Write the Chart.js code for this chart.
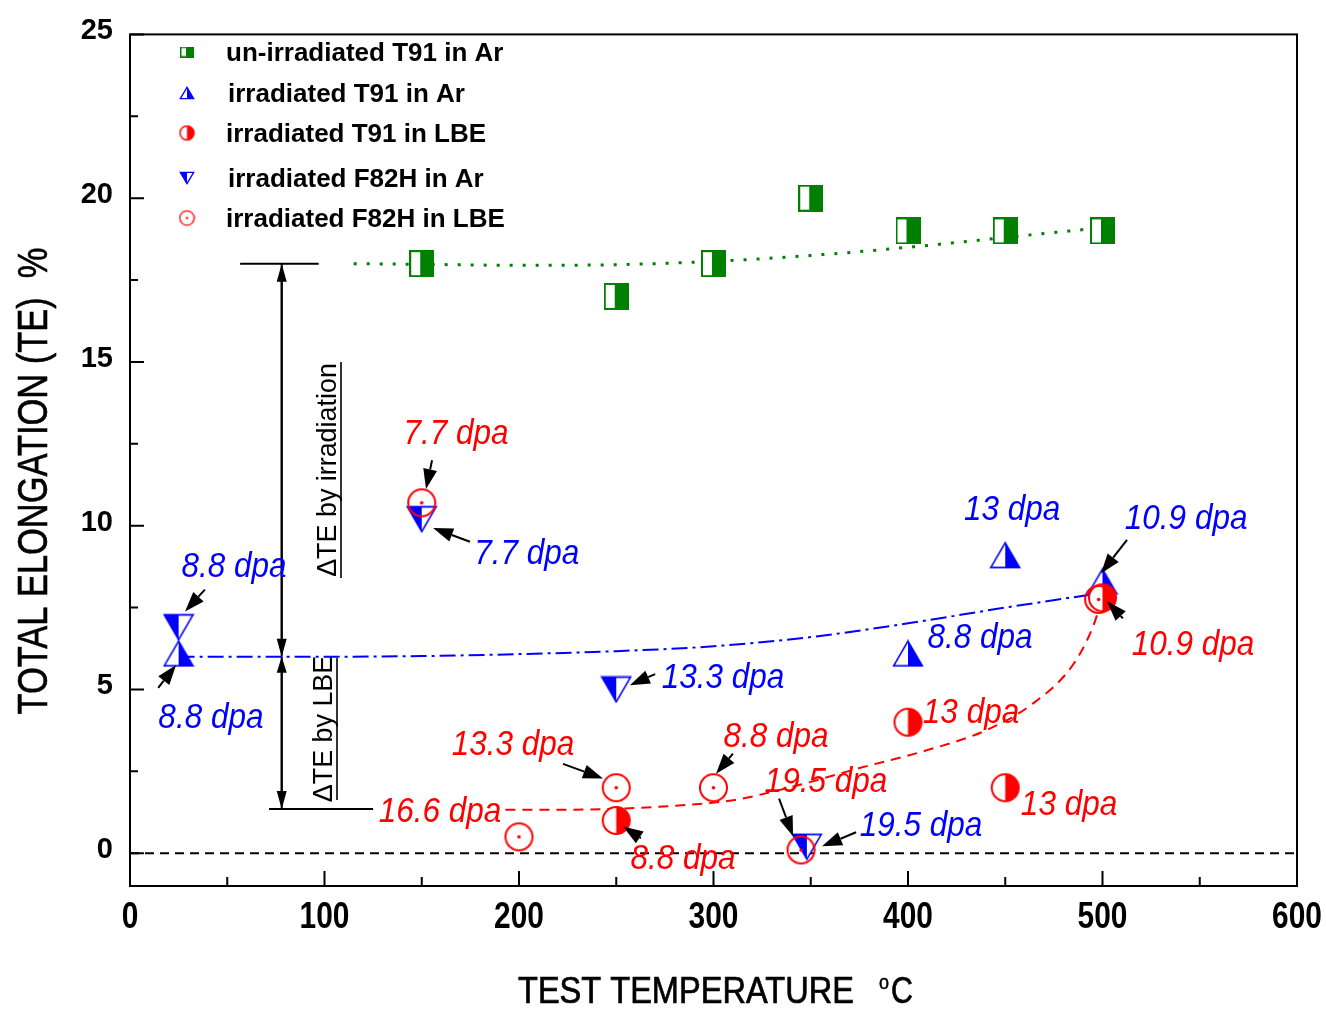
<!DOCTYPE html>
<html><head><meta charset="utf-8">
<script src="https://cdn.jsdelivr.net/npm/chart.js@4.4.1/dist/chart.umd.min.js"></script>
<style>html,body{margin:0;padding:0;background:#fff;}canvas{display:block;}</style>
</head><body>
<canvas id="c" width="1326" height="1010"></canvas>
<script>
// ---------- data ----------
const xTicks = [0, 100, 200, 300, 400, 500, 600];
const yTicks = [0, 5, 10, 15, 20, 25];

const seriesNames = ['un-irradiated T91 in Ar', 'irradiated T91 in Ar', 'irradiated T91 in LBE', 'irradiated F82H in Ar', 'irradiated F82H in LBE'];

const unirrT91ArX = [150, 250, 300, 350, 400, 450, 500];
const unirrT91ArY = [18, 17, 18, 20, 19, 19, 19];
const irrT91ArX = [25, 400, 450, 500];
const irrT91ArY = [6.1, 6.1, 9.1, 8.3];
const irrT91LbeX = [250, 400, 450, 500];
const irrT91LbeY = [1.0, 4.0, 2.0, 7.8];
const irrF82ArX = [25, 150, 250, 348];
const irrF82ArY = [6.9, 10.2, 5.0, 0.2];
const irrF82LbeX = [150, 200, 250, 300, 345, 498];
const irrF82LbeY = [10.7, 0.5, 2.0, 2.0, 0.1, 7.75];

const fitGreenX = [115, 150, 200, 250, 300, 350, 400, 450, 500];
const fitGreenY = [18.0, 17.98, 17.95, 17.97, 18.07, 18.25, 18.5, 18.8, 19.1];
const fitBlueX = [25, 100, 150, 200, 250, 300, 350, 400, 450, 500];
const fitBlueY = [6.0, 6.0, 6.02, 6.08, 6.17, 6.32, 6.6, 7.02, 7.5, 7.95];
const fitRedX = [193, 225, 250, 280, 310, 345, 375, 410, 440, 464, 485, 495, 500];
const fitRedY = [1.33, 1.33, 1.36, 1.45, 1.62, 2.1, 2.6, 3.15, 3.75, 4.56, 5.77, 6.9, 7.8];
const zeroX = [0, 600];
const zeroY = [0, 0];

// dpa annotations: text, colour, label centre (data units), optional arrow tail/head (data units)
const dpaLabels = [
  ['8.8 dpa', 'blue', 53.5, 8.81, [38.5, 8.05, 28.3, 7.38]],
  ['8.8 dpa', 'blue', 41.6, 4.19, [14.5, 5.05, 23.7, 5.75]],
  ['7.7 dpa', 'blue', 204, 9.2, [174.8, 9.51, 155.8, 9.93]],
  ['13 dpa', 'blue', 453.5, 10.54, null],
  ['10.9 dpa', 'blue', 543, 10.27, [512.6, 9.57, 499.2, 8.54]],
  ['8.8 dpa', 'blue', 437, 6.62, null],
  ['13.3 dpa', 'blue', 304.9, 5.41, [270, 5.47, 257, 5.13]],
  ['19.5 dpa', 'blue', 406.7, 0.88, [373.3, 0.64, 355.8, 0.21]],
  ['7.7 dpa', 'red', 167.6, 12.85, [155.3, 12.0, 152.2, 11.12]],
  ['10.9 dpa', 'red', 546.5, 6.41, [510.5, 7.17, 502.3, 7.69]],
  ['13 dpa', 'red', 432.4, 4.34, null],
  ['13 dpa', 'red', 482.8, 1.52, null],
  ['13.3 dpa', 'red', 196.9, 3.37, [222.6, 2.73, 243.2, 2.28]],
  ['8.8 dpa', 'red', 332.1, 3.61, [310, 3.04, 301.3, 2.43]],
  ['19.5 dpa', 'red', 357.8, 2.25, [333.7, 1.67, 340.9, 0.52]],
  ['16.6 dpa', 'red', 159.4, 1.31, null],
  ['8.8 dpa', 'red', 284.3, -0.12, [262.7, 0.46, 253.5, 0.82]]
];

// ΔTE construction (data units)
const dteX = 78;
const dteTop = 18, dteMid = 6, dteBot = 1.35;
const dteTopBar = [56.6, 97];
const dteBotBar = [71.5, 125];

// ---------- markers ----------
const GREEN = '#008000', BLUE = '#0000ff', RED = '#ff0000';
function mk(w, h, draw) { const c = document.createElement('canvas'); c.width = w; c.height = h; draw(c.getContext('2d'), w, h); return c; }
function square(w, h, lw) {
  return mk(w, h, (g) => {
    g.fillStyle = '#fff'; g.fillRect(1, 1, w - 2, h - 2);
    g.fillStyle = GREEN; g.fillRect(Math.round(w * 0.45), 1, w - 1 - Math.round(w * 0.45), h - 2);
    g.strokeStyle = GREEN; g.lineWidth = lw; g.strokeRect(lw / 2, lw / 2, w - lw, h - lw);
  });
}
function upTri(w, h, lw) {
  return mk(w, h, (g) => {
    const p = lw;
    g.beginPath(); g.moveTo(w / 2, p); g.lineTo(w - p, h - p); g.lineTo(p, h - p); g.closePath();
    g.fillStyle = '#fff'; g.fill();
    g.beginPath(); g.moveTo(w / 2, p); g.lineTo(w - p, h - p); g.lineTo(w / 2, h - p); g.closePath();
    g.fillStyle = BLUE; g.fill();
    g.beginPath(); g.moveTo(w / 2, p); g.lineTo(w - p, h - p); g.lineTo(p, h - p); g.closePath();
    g.strokeStyle = BLUE; g.lineWidth = lw; g.stroke();
  });
}
function downTri(w, h, lw) {
  return mk(w, h, (g) => {
    const p = lw;
    g.beginPath(); g.moveTo(p, p); g.lineTo(w - p, p); g.lineTo(w / 2, h - p); g.closePath();
    g.fillStyle = '#fff'; g.fill();
    g.beginPath(); g.moveTo(p, p); g.lineTo(w / 2, p); g.lineTo(w / 2, h - p); g.closePath();
    g.fillStyle = BLUE; g.fill();
    g.beginPath(); g.moveTo(p, p); g.lineTo(w - p, p); g.lineTo(w / 2, h - p); g.closePath();
    g.strokeStyle = BLUE; g.lineWidth = lw; g.stroke();
  });
}
function halfCirc(d, lw) {
  return mk(d, d, (g) => {
    const r = d / 2 - lw;
    g.beginPath(); g.arc(d / 2, d / 2, r, 0, Math.PI * 2); g.fillStyle = '#fff'; g.fill();
    g.beginPath(); g.arc(d / 2, d / 2, r, -Math.PI / 2, Math.PI / 2); g.closePath(); g.fillStyle = RED; g.fill();
    g.beginPath(); g.arc(d / 2, d / 2, r, 0, Math.PI * 2); g.strokeStyle = RED; g.lineWidth = lw; g.stroke();
  });
}
function dotCirc(d, lw, dr) {
  return mk(d, d, (g) => {
    const r = d / 2 - lw;
    g.beginPath(); g.arc(d / 2, d / 2, r, 0, Math.PI * 2); g.fillStyle = 'rgba(255,255,255,0)'; 
    g.strokeStyle = RED; g.lineWidth = lw; g.stroke();
    g.beginPath(); g.arc(d / 2, d / 2, dr, 0, Math.PI * 2); g.fillStyle = RED; g.fill();
  });
}
const mSquare = square(25, 27, 2), mUp = upTri(32, 28, 1.6), mDown = downTri(32, 28, 1.6), mHalf = halfCirc(31, 2), mDot = dotCirc(31, 2, 1.8);
const lSquare = square(14, 11, 1.5), lUp = upTri(16, 14, 1.3), lDown = downTri(16, 14, 1.3), lHalf = halfCirc(17, 1.5), lDot = dotCirc(17, 1.3, 1.2);

const pts = (xs, ys) => xs.map((x, i) => ({ x: x, y: ys[i] }));

// ---------- helpers ----------
const FF = '"Liberation Sans", Arial, sans-serif';
function txt(ctx, s, x, y, font, color, sx, align, rot, sw) {
  ctx.save(); ctx.translate(x, y); if (rot) ctx.rotate(rot); ctx.scale(sx, 1);
  ctx.font = font; ctx.fillStyle = color; ctx.textAlign = align || 'left'; ctx.textBaseline = 'alphabetic';
  ctx.fillText(s, 0, 0);
  if (sw) { ctx.strokeStyle = color; ctx.lineWidth = sw; ctx.strokeText(s, 0, 0); }
  ctx.restore();
}
function arrow(ctx, x1, y1, x2, y2, hl, hw, lw) {
  const a = Math.atan2(y2 - y1, x2 - x1);
  const bx = x2 - hl * Math.cos(a), by = y2 - hl * Math.sin(a);
  ctx.save(); ctx.strokeStyle = '#000'; ctx.fillStyle = '#000'; ctx.lineWidth = lw;
  ctx.beginPath(); ctx.moveTo(x1, y1); ctx.lineTo(bx, by); ctx.stroke();
  ctx.beginPath(); ctx.moveTo(x2, y2);
  ctx.lineTo(bx + hw * Math.sin(a), by - hw * Math.cos(a));
  ctx.lineTo(bx - hw * Math.sin(a), by + hw * Math.cos(a));
  ctx.closePath(); ctx.fill(); ctx.restore();
}
function line(ctx, x1, y1, x2, y2, lw) {
  ctx.save(); ctx.strokeStyle = '#000'; ctx.lineWidth = lw; ctx.beginPath(); ctx.moveTo(x1, y1); ctx.lineTo(x2, y2); ctx.stroke(); ctx.restore();
}

const decor = {
  id: 'decor',
  beforeDatasetsDraw(chart) {
    const ctx = chart.ctx, xs = chart.scales.x, ys = chart.scales.y;
    const X = v => xs.getPixelForValue(v), Y = v => ys.getPixelForValue(v);
    // ΔTE construction
    line(ctx, X(dteTopBar[0]), Y(dteTop), X(dteTopBar[1]), Y(dteTop), 2);
    line(ctx, X(dteBotBar[0]), Y(dteBot), X(dteBotBar[1]), Y(dteBot), 2);
    arrow(ctx, X(dteX), Y(dteMid), X(dteX), Y(dteTop), 18, 5, 2);
    arrow(ctx, X(dteX), Y(dteTop), X(dteX), Y(dteMid), 18, 5, 2);
    arrow(ctx, X(dteX), Y(dteBot), X(dteX), Y(dteMid), 16, 5, 2);
    arrow(ctx, X(dteX), Y(dteMid), X(dteX), Y(dteBot), 18, 5, 2);
    // rotated labels with underline
    const f27 = '28px ' + FF;
    txt(ctx, 'ΔTE by irradiation', 336, 470, f27, '#000', 0.96, 'center', -Math.PI / 2);
    line(ctx, 341, 362, 341, 578, 1.6);
    txt(ctx, 'ΔTE by LBE', 332, 729, f27, '#000', 0.96, 'center', -Math.PI / 2);
    line(ctx, 337, 658, 337, 800, 1.6);
  },
  afterDatasetsDraw(chart) {
    const ctx = chart.ctx, xs = chart.scales.x, ys = chart.scales.y;
    const X = v => xs.getPixelForValue(v), Y = v => ys.getPixelForValue(v);
    const lf = 'italic 35px ' + FF;
    dpaLabels.forEach(([t, c, lx, ly, ar]) => {
      txt(ctx, t, X(lx), Y(ly) + 12, lf, c === 'blue' ? BLUE : RED, 0.9, 'center');
      if (ar) arrow(ctx, X(ar[0]), Y(ar[1]), X(ar[2]), Y(ar[3]), 20, 7, 2);
    });
  },
  afterDraw(chart) {
    const ctx = chart.ctx, xs = chart.scales.x, ys = chart.scales.y, a = chart.chartArea;
    const X = v => xs.getPixelForValue(v), Y = v => ys.getPixelForValue(v);
    // frame
    ctx.save(); ctx.strokeStyle = '#000'; ctx.lineWidth = 2;
    ctx.strokeRect(a.left, a.top, a.right - a.left, a.bottom - a.top);
    // ticks
    ctx.beginPath();
    for (let v = 0; v <= 600; v += 50) {
      const L = v % 100 === 0 ? 15 : 9;
      ctx.moveTo(X(v), a.bottom); ctx.lineTo(X(v), a.bottom - L);
    }
    for (let v = 0; v <= 25; v += 2.5) {
      const L = v % 5 === 0 ? 14 : 8;
      ctx.moveTo(a.left, Y(v)); ctx.lineTo(a.left + L, Y(v));
    }
    ctx.stroke(); ctx.restore();
    // x tick labels
    xTicks.forEach(v => txt(ctx, String(v), X(v), 928, 'bold 36px ' + FF, '#000', 0.83, 'center'));
    // axis titles
    txt(ctx, 'TEST TEMPERATURE', 518, 1003, '37px ' + FF, '#000', 0.88, 'left', 0, 0.7);
    txt(ctx, 'o', 884, 989, '20px ' + FF, '#000', 0.9, 'center', 0, 0.5);
    txt(ctx, 'C', 913, 1003, '37px ' + FF, '#000', 0.82, 'right', 0, 0.7);
    txt(ctx, 'TOTAL ELONGATION (TE)  %', 47, 481, '42px ' + FF, '#000', 0.82, 'center', -Math.PI / 2, 0.6);
    // legend
    const leg = [[lSquare, 52, 226], [lUp, 93, 228], [lHalf, 133, 226], [lDown, 178, 228], [lDot, 218, 226]];
    leg.forEach(([m, cy, tx], i) => {
      ctx.drawImage(m, 187 - m.width / 2, cy - m.height / 2);
      txt(ctx, seriesNames[i], tx, cy + 9, 'bold 26px ' + FF, '#000', 1, 'left');
    });
  }
};

function pointSet(label, xs, ys, style) {
  return { label: label, data: pts(xs, ys), pointStyle: style, pointRadius: 15, showLine: false, backgroundColor: 'transparent', borderColor: 'transparent' };
}
function lineSet(label, xs, ys, color, dash, w) {
  return { label: label, data: pts(xs, ys), showLine: true, pointRadius: 0, borderColor: color, borderDash: dash, borderWidth: w, cubicInterpolationMode: 'monotone', fill: false };
}

new Chart(document.getElementById('c'), {
  type: 'scatter',
  data: {
    datasets: [
      pointSet(seriesNames[4], irrF82LbeX, irrF82LbeY, mDot),
      pointSet(seriesNames[2], irrT91LbeX, irrT91LbeY, mHalf),
      pointSet(seriesNames[3], irrF82ArX, irrF82ArY, mDown),
      pointSet(seriesNames[1], irrT91ArX, irrT91ArY, mUp),
      pointSet(seriesNames[0], unirrT91ArX, unirrT91ArY, mSquare),
      lineSet('fit un-irradiated', fitGreenX, fitGreenY, GREEN, [3, 10], 3),
      lineSet('fit Ar', fitBlueX, fitBlueY, BLUE, [16, 5, 3, 5], 2),
      lineSet('fit LBE', fitRedX, fitRedY, RED, [10, 7], 2),
      lineSet('zero', zeroX, zeroY, '#000', [9, 6], 2)
    ]
  },
  options: {
    responsive: false, devicePixelRatio: 1, animation: false,
    layout: { padding: { left: 0, top: 30, right: 29, bottom: 0 } },
    plugins: { legend: { display: false }, tooltip: { enabled: false } },
    scales: {
      x: {
        type: 'linear', min: 0, max: 600,
        grid: { display: false, drawTicks: false }, border: { display: false },
        ticks: { display: false },
        afterBuildTicks: s => { s.ticks = xTicks.map(v => ({ value: v })); },
        afterFit: s => { s.height = 124; }
      },
      y: {
        type: 'linear', min: -1, max: 25,
        grid: { display: false, drawTicks: false }, border: { display: false },
        ticks: { color: '#000', padding: 17, labelOffset: -3, font: { family: FF, size: 29, weight: 'bold' } },
        afterBuildTicks: s => { s.ticks = yTicks.map(v => ({ value: v })); },
        afterFit: s => { s.width = 130; }
      }
    }
  },
  plugins: [decor]
});
</script>
</body></html>
